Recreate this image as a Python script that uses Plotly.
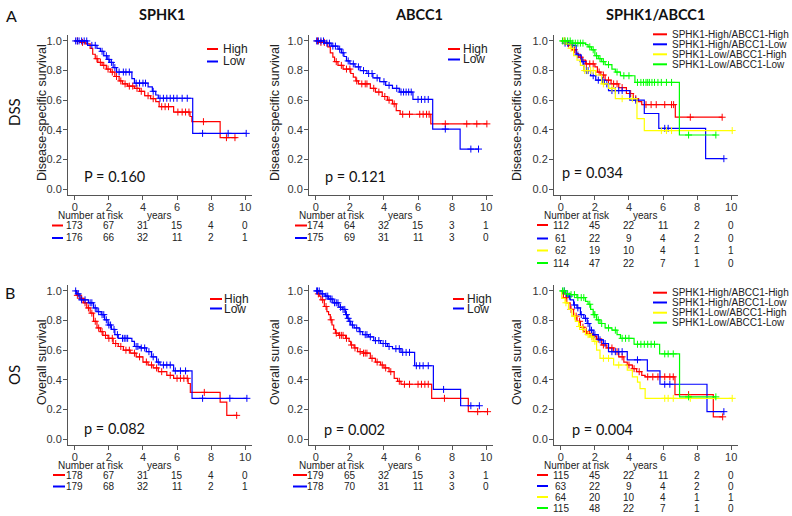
import plotly.graph_objects as go

# ---------------- DATA ----------------
years_ticks = [0, 2, 4, 6, 8, 10]
col_titles = ["SPHK1", "ABCC1", "SPHK1/ABCC1"]
row_labels = ["DSS", "OS"]
panel_letters = ["A", "B"]
y_titles = ["Disease-specific survival", "Overall survival"]
p_values = ["P = 0.160", "p = 0.121", "p = 0.034", "p = 0.082", "p = 0.002", "p = 0.004"]
two_groups = ["High", "Low"]
four_groups = ["SPHK1-High/ABCC1-High", "SPHK1-High/ABCC1-Low",
               "SPHK1-Low/ABCC1-High", "SPHK1-Low/ABCC1-Low"]

# Panel 1: DSS, SPHK1
dss_sphk1_high_t = [0, 0.3, 0.6, 0.9, 1.05, 1.2, 1.35, 1.6, 1.85, 2.1, 2.35, 2.6, 2.8, 3.1, 3.5, 3.8, 4.1, 4.45, 4.75, 4.95, 5.8, 6.76, 6.87, 8.53, 9.5]
dss_sphk1_high_s = [1.0, 0.99, 0.98, 0.95, 0.91, 0.88, 0.855, 0.835, 0.81, 0.79, 0.76, 0.73, 0.71, 0.695, 0.68, 0.66, 0.63, 0.61, 0.59, 0.556, 0.52, 0.49, 0.455, 0.347, 0.347]
dss_sphk1_high_c = [0.15, 0.45, 1.3, 1.5, 1.7, 1.95, 2.2, 2.45, 2.7, 2.95, 3.2, 3.4, 3.65, 3.9, 4.3, 4.6, 5.1, 5.3, 5.5, 6.05, 6.3, 6.5, 6.7, 7.55, 8.9, 9.4]
dss_sphk1_low_t = [0, 0.75, 1.3, 1.5, 1.7, 1.9, 2.05, 2.25, 2.45, 3.35, 3.5, 4.3, 4.55, 4.75, 4.9, 6.92, 10.06]
dss_sphk1_low_s = [1.0, 0.97, 0.95, 0.93, 0.90, 0.875, 0.855, 0.82, 0.79, 0.745, 0.715, 0.69, 0.66, 0.635, 0.613, 0.376, 0.376]
dss_sphk1_low_c = [0.05, 0.15, 0.25, 0.4, 0.55, 0.7, 1.0, 1.2, 1.6, 1.85, 2.0, 2.15, 2.35, 2.6, 2.85, 3.0, 3.2, 3.6, 3.8, 4.0, 4.15, 4.6, 5.0, 5.2, 5.4, 5.6, 5.8, 6.0, 6.3, 6.6, 7.5, 9.0, 10.06]

# Panel 2: DSS, ABCC1
dss_abcc1_high_t = [0, 0.15, 0.7, 0.85, 1.0, 1.1, 1.3, 1.6, 2.05, 2.2, 2.35, 2.5, 3.2, 3.5, 3.9, 4.2, 4.5, 4.72, 4.95, 6.75, 10.04]
dss_abcc1_high_s = [1.0, 0.99, 0.96, 0.92, 0.89, 0.86, 0.835, 0.81, 0.78, 0.755, 0.73, 0.71, 0.68, 0.655, 0.625, 0.60, 0.575, 0.53, 0.505, 0.44, 0.44]
dss_abcc1_high_c = [0.1, 0.3, 0.5, 1.2, 1.5, 1.8, 2.0, 2.4, 2.7, 2.9, 3.0, 3.4, 3.7, 4.05, 4.3, 4.6, 5.1, 5.5, 6.1, 6.3, 6.5, 6.65, 7.6, 8.86, 9.45, 10.04]
dss_abcc1_low_t = [0, 0.5, 0.9, 1.3, 1.5, 1.65, 1.8, 2.0, 2.3, 2.6, 3.0, 3.35, 3.75, 4.1, 4.5, 4.9, 5.7, 6.86, 8.47, 9.55]
dss_abcc1_low_s = [1.0, 0.985, 0.965, 0.945, 0.92, 0.895, 0.865, 0.845, 0.825, 0.80, 0.78, 0.75, 0.725, 0.70, 0.68, 0.655, 0.605, 0.405, 0.27, 0.27]
dss_abcc1_low_c = [0.05, 0.15, 0.3, 0.45, 0.65, 0.8, 1.0, 1.15, 1.4, 1.6, 1.9, 2.2, 2.5, 2.8, 3.1, 3.3, 3.6, 4.0, 4.3, 4.75, 5.0, 5.15, 5.3, 5.45, 5.6, 6.0, 6.2, 6.4, 6.6, 7.6, 9.1, 9.55]

# Panel 3: DSS, SPHK1/ABCC1
dss_hh_t = [0, 0.3, 0.55, 0.65, 0.9, 1.05, 1.25, 1.45, 2.0, 2.15, 2.35, 2.6, 2.95, 3.4, 3.85, 4.25, 4.55, 4.75, 6.72, 9.47]
dss_hh_s = [1.0, 0.98, 0.97, 0.94, 0.915, 0.89, 0.87, 0.845, 0.825, 0.79, 0.77, 0.735, 0.71, 0.685, 0.645, 0.61, 0.59, 0.57, 0.485, 0.485]
dss_hh_c = [0.2, 0.45, 0.8, 1.15, 1.5, 1.7, 1.9, 2.25, 2.5, 2.8, 3.1, 3.3, 3.6, 4.1, 4.4, 5.0, 5.3, 5.6, 6.1, 6.5, 6.62, 7.6, 9.47]
dss_hl_t = [0, 0.2, 0.5, 0.9, 1.2, 1.35, 1.75, 2.05, 2.55, 2.8, 4.05, 4.9, 5.75, 8.5, 9.57]
dss_hl_s = [1.0, 0.985, 0.97, 0.905, 0.86, 0.80, 0.765, 0.735, 0.71, 0.665, 0.60, 0.51, 0.41, 0.205, 0.205]
dss_hl_c = [0.25, 0.4, 0.7, 1.0, 1.3, 1.5, 1.6, 1.9, 2.2, 2.45, 2.7, 3.0, 3.2, 3.4, 3.6, 4.4, 6.1, 6.3, 9.57]
dss_lh_t = [0, 0.3, 0.55, 0.75, 0.95, 1.15, 1.35, 2.05, 2.4, 2.8, 3.2, 4.47, 4.9, 10.06]
dss_lh_s = [1.0, 0.98, 0.95, 0.90, 0.87, 0.835, 0.80, 0.77, 0.71, 0.68, 0.61, 0.475, 0.395, 0.395]
dss_lh_c = [0.2, 0.6, 1.4, 1.55, 1.75, 1.9, 2.5, 3.0, 3.6, 4.2, 5.9, 6.2, 6.5, 10.06]
dss_ll_t = [0, 0.6, 1.45, 1.6, 1.8, 2.0, 2.2, 2.4, 2.6, 3.0, 3.2, 3.5, 4.35, 6.96, 9.1]
dss_ll_s = [1.0, 0.985, 0.975, 0.96, 0.94, 0.90, 0.88, 0.86, 0.84, 0.81, 0.79, 0.765, 0.72, 0.365, 0.365]
dss_ll_c = [0.1, 0.25, 0.4, 0.55, 0.7, 0.85, 1.0, 1.15, 1.3, 1.7, 1.9, 2.1, 2.3, 2.5, 2.8, 3.3, 3.7, 4.0, 4.5, 4.7, 4.85, 5.0, 5.1, 5.2, 5.35, 5.5, 5.7, 5.9, 6.2, 6.5, 7.5, 9.1]

# Panel 4: OS, SPHK1
os_sphk1_high_t = [0, 0.1, 0.3, 0.5, 0.7, 0.9, 1.1, 1.3, 1.5, 1.65, 1.95, 2.25, 2.55, 2.85, 3.25, 3.6, 4.0, 4.3, 4.6, 4.9, 5.4, 5.8, 6.65, 6.78, 8.53, 8.92, 9.55]
os_sphk1_high_s = [1.0, 0.97, 0.95, 0.92, 0.885, 0.85, 0.795, 0.75, 0.725, 0.70, 0.68, 0.645, 0.625, 0.60, 0.58, 0.555, 0.52, 0.50, 0.48, 0.455, 0.43, 0.41, 0.375, 0.315, 0.25, 0.16, 0.16]
os_sphk1_high_c = [0.15, 0.4, 0.6, 0.8, 1.0, 1.2, 1.4, 1.6, 1.8, 2.0, 2.2, 2.4, 2.7, 3.0, 3.2, 3.5, 3.8, 4.2, 4.5, 4.8, 5.1, 5.6, 6.0, 6.2, 6.4, 6.6, 7.6, 9.5]
os_sphk1_low_t = [0, 0.1, 0.3, 0.8, 1.1, 1.3, 1.55, 1.75, 1.95, 2.15, 2.35, 2.55, 3.35, 3.5, 3.8, 4.2, 4.5, 4.8, 5.0, 5.8, 6.88, 10.1]
os_sphk1_low_s = [1.0, 0.98, 0.94, 0.92, 0.885, 0.86, 0.84, 0.805, 0.77, 0.74, 0.705, 0.68, 0.66, 0.625, 0.615, 0.59, 0.555, 0.52, 0.50, 0.46, 0.275, 0.275]
os_sphk1_low_c = [0.05, 0.2, 0.4, 0.6, 0.9, 1.0, 1.2, 1.4, 1.6, 1.7, 1.85, 2.0, 2.1, 2.3, 2.5, 2.8, 2.9, 3.0, 3.1, 3.6, 3.7, 3.9, 4.1, 4.35, 4.6, 4.9, 5.2, 5.4, 5.6, 5.9, 6.2, 6.5, 7.5, 9.1, 10.1]

# Panel 5: OS, ABCC1
os_abcc1_high_t = [0, 0.1, 0.2, 0.3, 0.5, 0.65, 0.75, 0.85, 0.95, 1.05, 1.15, 1.35, 1.75, 1.95, 2.05, 2.25, 2.45, 2.8, 3.2, 3.5, 3.8, 4.0, 4.3, 4.6, 4.8, 5.0, 6.8, 8.95, 10.08]
os_abcc1_high_s = [1.0, 0.98, 0.965, 0.94, 0.895, 0.86, 0.84, 0.805, 0.77, 0.74, 0.715, 0.70, 0.68, 0.66, 0.635, 0.615, 0.59, 0.58, 0.545, 0.52, 0.50, 0.48, 0.455, 0.41, 0.39, 0.37, 0.275, 0.185, 0.185]
os_abcc1_high_c = [0.15, 0.4, 0.6, 0.9, 1.2, 1.4, 1.5, 1.6, 1.8, 2.1, 2.3, 2.6, 2.8, 2.9, 3.0, 3.3, 3.6, 3.9, 4.1, 4.4, 4.9, 5.2, 5.5, 6.0, 6.2, 6.4, 6.6, 7.55, 9.5, 10.08]
os_abcc1_low_t = [0, 0.3, 0.55, 0.75, 1.0, 1.35, 1.55, 1.75, 1.85, 1.95, 2.05, 2.25, 2.55, 2.75, 3.1, 3.4, 3.8, 4.2, 4.5, 5.0, 5.8, 6.9, 8.5, 9.6]
os_abcc1_low_s = [1.0, 0.98, 0.965, 0.945, 0.92, 0.89, 0.875, 0.84, 0.815, 0.795, 0.77, 0.75, 0.725, 0.705, 0.69, 0.665, 0.645, 0.625, 0.61, 0.585, 0.495, 0.335, 0.225, 0.225]
os_abcc1_low_c = [0.05, 0.1, 0.2, 0.4, 0.6, 0.7, 0.85, 0.95, 1.1, 1.2, 1.3, 1.45, 1.6, 1.7, 1.8, 1.9, 2.0, 2.15, 2.4, 2.6, 2.9, 3.0, 3.2, 3.5, 3.7, 3.95, 4.1, 4.3, 4.7, 4.9, 5.1, 5.3, 5.5, 5.9, 6.1, 6.3, 6.6, 7.5, 9.1, 9.6]

# Panel 6: OS, SPHK1/ABCC1
os_hh_t = [0, 0.15, 0.35, 0.55, 0.75, 0.95, 1.15, 1.35, 1.55, 1.8, 2.1, 2.4, 2.7, 3.1, 3.4, 3.7, 3.9, 4.2, 4.45, 4.75, 4.95, 6.7, 8.95, 9.5]
os_hh_s = [1.0, 0.955, 0.92, 0.875, 0.83, 0.795, 0.755, 0.725, 0.71, 0.695, 0.675, 0.635, 0.615, 0.59, 0.555, 0.52, 0.50, 0.475, 0.455, 0.43, 0.42, 0.30, 0.15, 0.15]
os_hh_c = [0.3, 0.6, 0.9, 1.1, 1.3, 1.5, 1.7, 1.9, 2.2, 2.5, 2.8, 3.0, 3.3, 3.6, 4.0, 4.3, 4.6, 5.1, 5.4, 5.7, 6.1, 6.4, 6.6, 7.5, 9.5]
os_hl_t = [0, 0.25, 0.35, 0.55, 0.75, 0.95, 1.15, 1.35, 1.55, 1.7, 1.9, 2.2, 2.5, 2.8, 3.9, 5.08, 5.82, 8.58, 9.57]
os_hl_s = [1.0, 0.985, 0.965, 0.94, 0.905, 0.885, 0.84, 0.815, 0.78, 0.735, 0.705, 0.67, 0.645, 0.59, 0.535, 0.46, 0.37, 0.185, 0.185]
os_hl_c = [0.2, 0.5, 0.8, 1.0, 1.2, 1.45, 1.6, 1.8, 2.0, 2.3, 2.6, 3.0, 3.2, 3.4, 3.6, 4.5, 6.1, 6.4, 9.57]
os_lh_t = [0, 0.05, 0.25, 0.45, 0.65, 0.85, 1.05, 1.25, 1.45, 1.7, 1.9, 2.1, 2.3, 3.1, 3.9, 4.2, 4.5, 4.65, 4.95, 10.06]
os_lh_s = [1.0, 0.95, 0.92, 0.875, 0.83, 0.795, 0.76, 0.74, 0.705, 0.69, 0.66, 0.60, 0.545, 0.50, 0.465, 0.42, 0.385, 0.34, 0.275, 0.275]
os_lh_c = [0.3, 0.8, 1.1, 1.3, 1.6, 1.8, 2.0, 2.5, 2.8, 3.4, 6.1, 6.3, 6.6, 7.6, 10.06]
os_ll_t = [0, 0.25, 0.55, 0.95, 1.45, 1.6, 1.75, 1.9, 2.1, 2.3, 2.6, 3.0, 3.3, 3.5, 4.3, 5.8, 6.97, 9.1]
os_ll_s = [1.0, 0.98, 0.975, 0.955, 0.93, 0.91, 0.875, 0.84, 0.805, 0.78, 0.75, 0.735, 0.705, 0.68, 0.64, 0.575, 0.285, 0.285]
os_ll_c = [0.1, 0.2, 0.4, 0.6, 0.8, 1.0, 1.2, 1.35, 1.7, 1.95, 2.0, 2.2, 2.4, 2.8, 3.2, 3.6, 3.8, 4.0, 4.5, 4.7, 4.9, 5.1, 5.3, 5.5, 6.1, 6.3, 6.6, 7.5, 9.1]

# Numbers at risk (at 0, 2, 4, 6, 8, 10 years)
risk_dss_sphk1 = [[173, 67, 31, 15, 4, 0], [176, 66, 32, 11, 2, 1]]
risk_dss_abcc1 = [[174, 64, 32, 15, 3, 1], [175, 69, 31, 11, 3, 0]]
risk_dss_combo = [[112, 45, 22, 11, 2, 0], [61, 22, 9, 4, 2, 0], [62, 19, 10, 4, 1, 1], [114, 47, 22, 7, 1, 0]]
risk_os_sphk1 = [[178, 67, 31, 15, 4, 0], [179, 68, 32, 11, 2, 1]]
risk_os_abcc1 = [[179, 65, 32, 15, 3, 1], [178, 70, 31, 11, 3, 0]]
risk_os_combo = [[115, 45, 22, 11, 2, 0], [63, 22, 9, 4, 2, 0], [64, 20, 10, 4, 1, 1], [115, 48, 22, 7, 1, 0]]

# ---------------- STYLE / LAYOUT ----------------
W, H = 792, 516
RED, BLUE, YEL, GRN = "#FF0000", "#0000FF", "#FFFF00", "#00FF00"
SANS = "Liberation Sans, Arial, sans-serif"
CAL = "Lato, Carlito, sans-serif"
AXC = "#555555"
TXC = "#222222"


def px(x):
    return x / W


def py(y):
    return 1 - y / H


two_colors = [RED, BLUE]
four_colors = [RED, BLUE, YEL, GRN]

panels = [
    dict(col=0, row=0, curves=[(dss_sphk1_high_t, dss_sphk1_high_s, dss_sphk1_high_c),
                               (dss_sphk1_low_t, dss_sphk1_low_s, dss_sphk1_low_c)],
         labels=two_groups, colors=two_colors, risk=risk_dss_sphk1,
         leg=dict(x0=207, x1=218, tx=221, ys=[49, 61.5], size=12),
         risk_rows=[225.5, 238], dash=(52, 63), p=(82, 177)),
    dict(col=1, row=0, curves=[(dss_abcc1_high_t, dss_abcc1_high_s, dss_abcc1_high_c),
                               (dss_abcc1_low_t, dss_abcc1_low_s, dss_abcc1_low_c)],
         labels=two_groups, colors=two_colors, risk=risk_dss_abcc1,
         leg=dict(x0=448, x1=460, tx=461, ys=[49, 59.5], size=12),
         risk_rows=[225.5, 238], dash=(295, 307), p=(323, 177)),
    dict(col=2, row=0, curves=[(dss_hh_t, dss_hh_s, dss_hh_c), (dss_hl_t, dss_hl_s, dss_hl_c),
                               (dss_lh_t, dss_lh_s, dss_lh_c), (dss_ll_t, dss_ll_s, dss_ll_c)],
         labels=four_groups, colors=four_colors, risk=risk_dss_combo,
         leg=dict(x0=653, x1=667, tx=670, ys=[34.3, 44.3, 54.3, 64.3], size=10),
         risk_rows=[225, 238.5, 250.5, 263], dash=(537, 548), p=(560, 173)),
    dict(col=0, row=1, curves=[(os_sphk1_high_t, os_sphk1_high_s, os_sphk1_high_c),
                               (os_sphk1_low_t, os_sphk1_low_s, os_sphk1_low_c)],
         labels=two_groups, colors=two_colors, risk=risk_os_sphk1,
         leg=dict(x0=210, x1=222, tx=222, ys=[299, 308.5], size=12),
         risk_rows=[475, 486.5], dash=(53, 65), p=(82, 428)),
    dict(col=1, row=1, curves=[(os_abcc1_high_t, os_abcc1_high_s, os_abcc1_high_c),
                               (os_abcc1_low_t, os_abcc1_low_s, os_abcc1_low_c)],
         labels=two_groups, colors=two_colors, risk=risk_os_abcc1,
         leg=dict(x0=453, x1=464, tx=464.5, ys=[299, 308.5], size=12),
         risk_rows=[475, 486.5], dash=(293, 307), p=(322, 429)),
    dict(col=2, row=1, curves=[(os_hh_t, os_hh_s, os_hh_c), (os_hl_t, os_hl_s, os_hl_c),
                               (os_lh_t, os_lh_s, os_lh_c), (os_ll_t, os_ll_s, os_ll_c)],
         labels=four_groups, colors=four_colors, risk=risk_os_combo,
         leg=dict(x0=653, x1=667, tx=670, ys=[292.7, 302.5, 312.7, 322.7], size=10),
         risk_rows=[475, 486, 497, 508], dash=(537, 548), p=(570, 429)),
]

# pixel geometry of each plotting region (including R's 4% padding)
col_x = [(68, 252), (309, 493), (554, 738)]
row_y = [(35, 195), (285, 445)]
ytitle_x = [42, 275, 517]
title_x = [162, 419, 655]
nar_y = [215, 465]

fig = go.Figure()
annotations = []
shapes = []
layout_axes = {}


def step_value(ts, ss, c):
    v = ss[0]
    for t, s in zip(ts, ss):
        if t <= c:
            v = s
    return v


for i, p in enumerate(panels, start=1):
    sfx = "" if i == 1 else str(i)
    xref, yref = "x" + sfx, "y" + sfx
    x0, x1 = col_x[p["col"]]
    y0, y1 = row_y[p["row"]]
    layout_axes["xaxis" + sfx] = dict(
        domain=[px(x0), px(x1)], range=[-0.4, 10.4], anchor=yref,
        tickvals=years_ticks, ticks="outside", ticklen=4, tickcolor=AXC,
        ticklabelstandoff=-2,
        showline=True, linecolor=AXC, linewidth=1, showgrid=False, zeroline=False,
        tickfont=dict(family=SANS, size=11, color="#333333"), fixedrange=True)
    layout_axes["yaxis" + sfx] = dict(
        domain=[py(y1), py(y0)], range=[-0.04, 1.04], anchor=xref,
        tickvals=[0, 0.2, 0.4, 0.6, 0.8, 1.0],
        ticktext=["0.0", "0.2", "0.4", "0.6", "0.8", "1.0"],
        ticks="outside", ticklen=4, tickcolor=AXC, ticklabelstandoff=-1,
        showline=True, linecolor=AXC, linewidth=1, showgrid=False, zeroline=False,
        tickfont=dict(family=SANS, size=11, color="#333333"), fixedrange=True)

    for (ts, ss, cs), col, name in zip(p["curves"], p["colors"], p["labels"]):
        fig.add_trace(go.Scatter(x=ts, y=ss, mode="lines", line=dict(color=col, width=1.2, shape="hv"),
                                 xaxis=xref, yaxis=yref, showlegend=False, name=name, hoverinfo="skip"))
        cy = [step_value(ts, ss, c) for c in cs]
        fig.add_trace(go.Scatter(x=cs, y=cy, mode="markers",
                                 marker=dict(symbol="cross-thin", size=5, color=col,
                                             line=dict(color=col, width=1)),
                                 xaxis=xref, yaxis=yref, showlegend=False, hoverinfo="skip"))

    # legend (drawn as line + text)
    lg = p["leg"]
    for yy, col, name in zip(lg["ys"], p["colors"], p["labels"]):
        shapes.append(dict(type="line", xref="paper", yref="paper", x0=px(lg["x0"]), x1=px(lg["x1"]),
                           y0=py(yy), y1=py(yy), line=dict(color=col, width=2)))
        annotations.append(dict(text=name, xref="paper", yref="paper", x=px(lg["tx"]), y=py(yy),
                                xanchor="left", yanchor="middle", showarrow=False,
                                font=dict(family=SANS, size=lg["size"], color=TXC)))

    # p-value
    annotations.append(dict(text=p_values[i - 1], xref="paper", yref="paper", x=px(p["p"][0]), y=py(p["p"][1]),
                            xanchor="left", yanchor="middle", showarrow=False,
                            font=dict(family=CAL, size=14.5, color="#111111")))

    # y axis title
    annotations.append(dict(text=y_titles[p["row"]], xref="paper", yref="paper",
                            x=px(ytitle_x[p["col"]]), y=py((y0 + y1) / 2 - 2), textangle=-90,
                            xanchor="center", yanchor="middle", showarrow=False,
                            font=dict(family=SANS, size=12.5, color=TXC)))

    # risk table
    ny = nar_y[p["row"]]
    annotations.append(dict(text="Number at risk", xref=xref, yref="paper", x=0.95, y=py(ny),
                            xanchor="center", yanchor="middle", showarrow=False,
                            font=dict(family=SANS, size=10, color=TXC)))
    annotations.append(dict(text="years", xref=xref, yref="paper", x=4.95, y=py(ny),
                            xanchor="center", yanchor="middle", showarrow=False,
                            font=dict(family=SANS, size=10, color=TXC)))
    for rv, ry, col in zip(p["risk"], p["risk_rows"], p["colors"]):
        shapes.append(dict(type="line", xref="paper", yref="paper", x0=px(p["dash"][0]), x1=px(p["dash"][1]),
                           y0=py(ry), y1=py(ry), line=dict(color=col, width=2)))
        for tv, n in zip(years_ticks, rv):
            annotations.append(dict(text=str(n), xref=xref, yref="paper", x=tv, y=py(ry),
                                    xanchor="center", yanchor="middle", showarrow=False,
                                    font=dict(family=SANS, size=10, color=TXC)))

# column titles
for cx, t in zip(title_x, col_titles):
    annotations.append(dict(text="<b>" + t + "</b>", xref="paper", yref="paper", x=px(cx), y=py(14),
                            xanchor="center", yanchor="middle", showarrow=False,
                            font=dict(family=CAL, size=14.5, color="#111111")))
# row labels and panel letters
for lab, yy in zip(row_labels, [112, 375]):
    annotations.append(dict(text=lab, xref="paper", yref="paper", x=px(14), y=py(yy), textangle=-90,
                            xanchor="center", yanchor="middle", showarrow=False,
                            font=dict(family=CAL, size=15, color="#111111")))
for lab, (xx, yy) in zip(panel_letters, [(11, 15), (10, 292)]):
    annotations.append(dict(text=lab, xref="paper", yref="paper", x=px(xx), y=py(yy),
                            xanchor="center", yanchor="middle", showarrow=False,
                            font=dict(family=CAL, size=16, color="#111111")))

fig.update_layout(width=W, height=H, margin=dict(l=0, r=0, t=0, b=0),
                  paper_bgcolor="white", plot_bgcolor="white",
                  annotations=annotations, shapes=shapes, showlegend=False, **layout_axes)

fig.write_html("out.html", config={"displayModeBar": False, "staticPlot": True},
               post_script="document.body.style.margin='0px';document.body.style.overflow='hidden';")
